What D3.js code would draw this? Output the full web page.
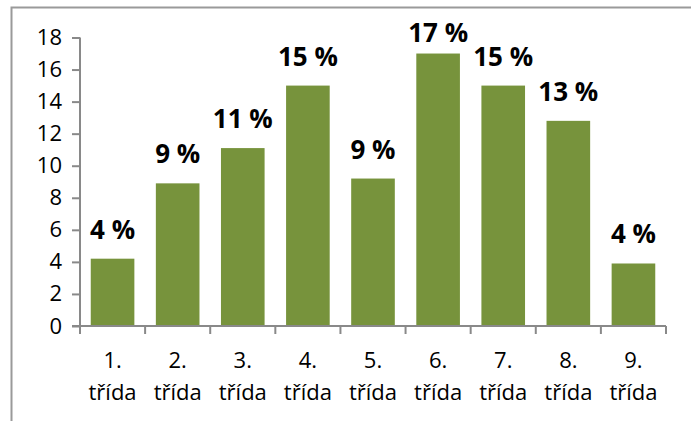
<!DOCTYPE html>
<html>
<head>
<meta charset="utf-8">
<script src="https://cdn.jsdelivr.net/npm/d3@7"></script>
<style>
  body { margin: 0; background: #fff; }
  text { font-family: "Open Sans", "Liberation Sans", sans-serif; fill: #000; }
</style>
</head>
<body>
<div id="display"></div>
<script>
// data
var categories = ["1.", "2.", "3.", "4.", "5.", "6.", "7.", "8.", "9."]
var values = [4.2, 8.9, 11.1, 15.0, 9.2, 17.0, 15.0, 12.8, 3.9]
var labels = ["4 %", "9 %", "11 %", "15 %", "9 %", "17 %", "15 %", "13 %", "4 %"]
var yTicks = [0, 2, 4, 6, 8, 10, 12, 14, 16, 18]

var W = 691, H = 421
var margin = {top: 37.5, right: 25, bottom: 95, left: 80},
    width = 666 - margin.left,
    height = 326 - margin.top

var svg = d3.select("#display").append("svg")
    .attr("width", W)
    .attr("height", H)

// chart frame (top + left edges visible)
svg.append("path")
    .attr("d", "M11.5,421 V7.5 H691")
    .attr("fill", "none")
    .attr("stroke", "#9a9a9a")
    .attr("stroke-width", 2)

var g = svg.append("g")
    .attr("transform", "translate(" + margin.left + "," + margin.top + ")")

var x = d3.scaleBand()
    .domain(categories)
    .range([0, width])
    .paddingInner(0.33)
    .paddingOuter(0.165)

var y = d3.scaleLinear()
    .domain([0, 18])
    .range([height, 0])

// bars
g.selectAll("rect.bar")
  .data(values)
  .enter()
  .append("rect")
    .attr("class", "bar")
    .attr("x", function(d, i){ return x(categories[i]) })
    .attr("y", function(d){ return y(d) })
    .attr("width", x.bandwidth())
    .attr("height", function(d){ return height - y(d) })
    .attr("fill", "#77933c")

// value labels, pushed down a bit if they would leave the plot
g.selectAll("text.lbl")
  .data(values)
  .enter()
  .append("text")
    .attr("class", "lbl")
    .attr("x", function(d, i){ return x(categories[i]) + x.bandwidth() / 2 })
    .attr("y", function(d){ return Math.max(y(d) - 20, 4.5) })
    .attr("text-anchor", "middle")
    .attr("font-size", 26)
    .attr("font-weight", "bold")
    .text(function(d, i){ return labels[i] })

// Y axis
var yAxis = g.append("g")
    .call(d3.axisLeft(y).tickValues(yTicks).tickSize(8).tickPadding(10).tickSizeOuter(0))
yAxis.select(".domain").attr("stroke", "#898989").attr("stroke-width", 2)
  .attr("d", "M0,0 V" + (height + 8))
yAxis.selectAll(".tick line").attr("stroke", "#898989").attr("stroke-width", 2)
yAxis.selectAll(".tick text").attr("font-size", 22).attr("font-family", "Open Sans, Liberation Sans, sans-serif").attr("fill", "#000")

// X axis: ticks on band edges
var xAxisG = g.append("g").attr("transform", "translate(0," + height + ")")
xAxisG.append("line")
    .attr("x1", -8).attr("x2", width)
    .attr("stroke", "#898989").attr("stroke-width", 2)
var edges = categories.map(function(c){ return x(c) - x.step() * x.paddingInner() / 2 })
edges.push(width)
xAxisG.selectAll("line.tk")
  .data(edges)
  .enter()
  .append("line")
    .attr("class", "tk")
    .attr("x1", function(d){ return d }).attr("x2", function(d){ return d })
    .attr("y1", 0).attr("y2", 8)
    .attr("stroke", "#898989").attr("stroke-width", 2)

var catLbl = xAxisG.selectAll("text.cat")
  .data(categories)
  .enter()
  .append("text")
    .attr("class", "cat")
    .attr("text-anchor", "middle")
    .attr("font-size", 22)
    .attr("transform", function(d){ return "translate(" + (x(d) + x.bandwidth() / 2) + ",0)" })
catLbl.append("tspan").attr("x", 0).attr("y", 42).text(function(d){ return d })
catLbl.append("tspan").attr("x", 0).attr("y", 74).text("třída")
</script>
</body>
</html>
